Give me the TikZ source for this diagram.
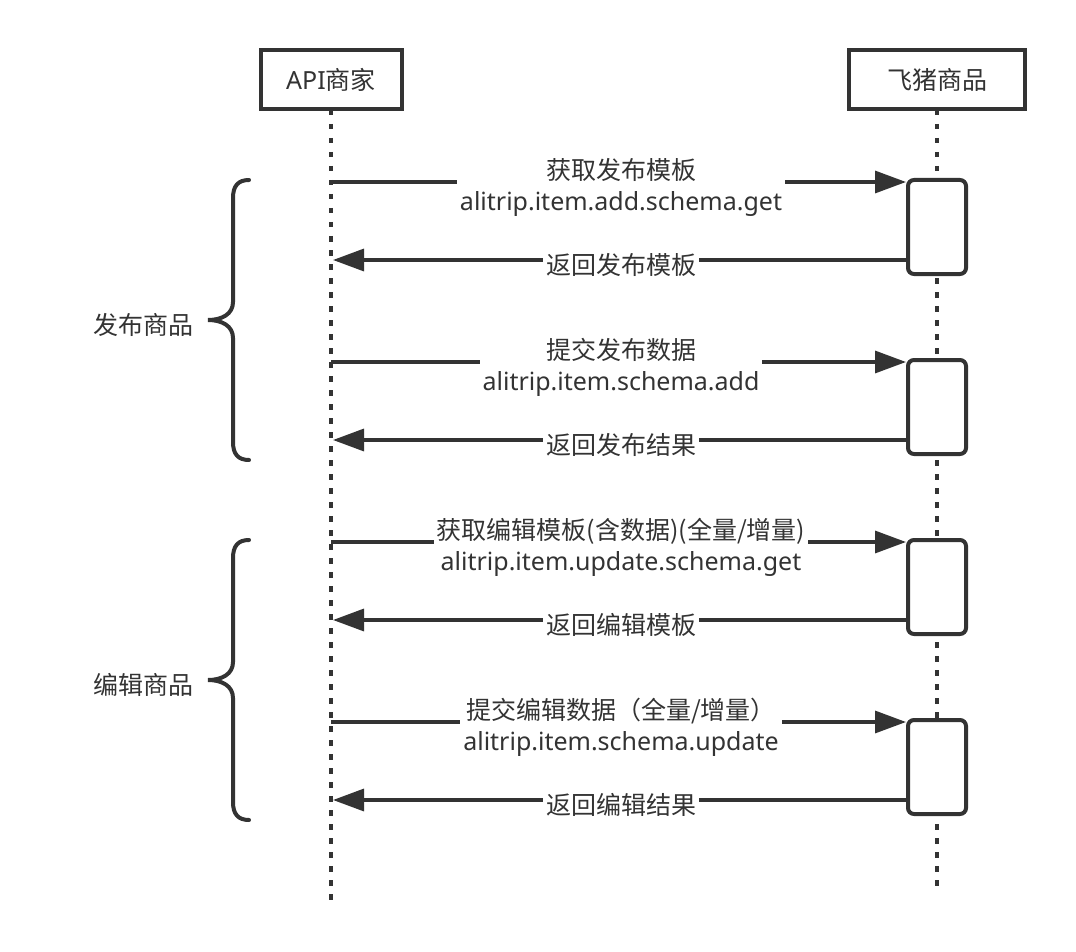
\documentclass[tikz,border=0pt]{standalone}
\usepackage{fontspec}
\setmainfont{Noto Sans}
\newfontfamily\cjk{Noto Sans CJK SC}
\usetikzlibrary{arrows.meta}
\definecolor{ink}{HTML}{333333}
\begin{document}
\begin{tikzpicture}[x=1pt,y=-1pt,
  every node/.style={text=ink},
  actor/.style={draw=ink, line width=4pt, minimum height=59pt, inner sep=0pt, font=\fontsize{25}{30}\selectfont, fill=white},
  life/.style={draw=ink, line width=4pt, dash pattern=on 5.5pt off 8.5pt},
  actbox/.style={draw=ink, line width=4pt, rounded corners=6pt, minimum width=58pt, minimum height=94pt, inner sep=0pt, fill=white},
  msg/.style={draw=ink, line width=3.3pt, -{Triangle[length=31pt,width=22pt]}},
  lbl/.style={fill=white, inner xsep=3pt, inner ysep=1pt, align=center, font=\fontsize{25}{31}\selectfont},
  grplbl/.style={font=\fontsize{25}{30}\selectfont},
  grp/.style={draw=ink, line width=4pt, line cap=round},
]
\useasboundingbox (0,0) rectangle (1076,952);

% lifelines
\coordinate (Atop) at (331,110);
\coordinate (Aend) at (331,900);
\coordinate (Btop) at (937,110);
\coordinate (Bend) at (937,886);
\draw[life] (Atop) -- (Aend);
\draw[life] (Btop) -- (Bend);

% actors
\node[actor, minimum width=141pt] (A) at (331,79.5) {API{\cjk 商家}};
\node[actor, minimum width=176pt] (B) at (937,79.5) {\cjk 飞猪商品};

% activation boxes
\node[actbox] (act1) at (937,227) {};
\node[actbox] (act2) at (937,407) {};
\node[actbox] (act3) at (937,587) {};
\node[actbox] (act4) at (937,767) {};

% coordinates on caller lifeline
\coordinate (f1) at (331,182);
\coordinate (r1) at (333,260);
\coordinate (f2) at (331,362);
\coordinate (r2) at (333,440);
\coordinate (f3) at (331,542);
\coordinate (r3) at (333,620);
\coordinate (f4) at (331,722);
\coordinate (r4) at (333,800);

% messages
\draw[msg] (f1) -- (act1.west |- f1);
\node[lbl] (m1) at (621,187) {{\cjk 获取发布模板}\\alitrip.item.add.schema.get};
\draw[msg] (act1.west |- r1) -- (r1);
\node[lbl] (m2) at (621,265) {\cjk 返回发布模板};

\draw[msg] (f2) -- (act2.west |- f2);
\node[lbl] (m3) at (621,367) {{\cjk 提交发布数据}\\alitrip.item.schema.add};
\draw[msg] (act2.west |- r2) -- (r2);
\node[lbl] (m4) at (621,445) {\cjk 返回发布结果};

\draw[msg] (f3) -- (act3.west |- f3);
\node[lbl] (m5) at (621,547) {{\cjk 获取编辑模板(含数据)(全量/增量)}\\alitrip.item.update.schema.get};
\draw[msg] (act3.west |- r3) -- (r3);
\node[lbl] (m6) at (621,625) {\cjk 返回编辑模板};

\draw[msg] (f4) -- (act4.west |- f4);
\node[lbl] (m7) at (621,727) {{\cjk 提交编辑数据（全量/增量）}\\alitrip.item.schema.update};
\draw[msg] (act4.west |- r4) -- (r4);
\node[lbl] (m8) at (621,805) {\cjk 返回编辑结果};

% braces
\draw[grp] (249,180) .. controls (238,180) and (233,186) .. (233,198)
  -- (233,302) .. controls (233,314) and (222,320) .. (208,320)
  .. controls (222,320) and (233,326) .. (233,338)
  -- (233,442) .. controls (233,454) and (238,460) .. (249,460);
\draw[grp] (249,540) .. controls (238,540) and (233,546) .. (233,558)
  -- (233,662) .. controls (233,674) and (222,680) .. (208,680)
  .. controls (222,680) and (233,686) .. (233,698)
  -- (233,802) .. controls (233,814) and (238,820) .. (249,820);
\node[grplbl] (g1) at (143.5,325) {\cjk 发布商品};
\node[grplbl] (g2) at (143.5,685) {\cjk 编辑商品};
\end{tikzpicture}
\end{document}
